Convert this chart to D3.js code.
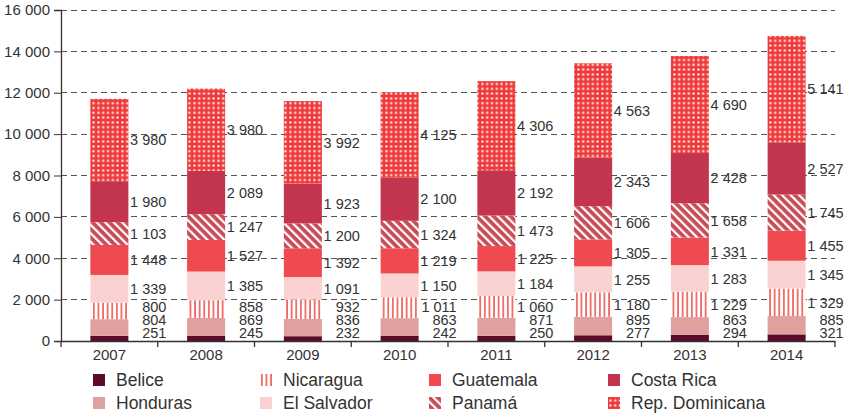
<!DOCTYPE html>
<html><head><meta charset="utf-8">
<script src="https://cdn.jsdelivr.net/npm/d3@7"></script>
<style>
body{margin:0;background:#fff;}
svg{display:block;font-family:"Liberation Sans",Arial,sans-serif;}
</style></head><body>
<svg id="chart" width="852" height="416"></svg>
<script>
const years = ["2007","2008","2009","2010","2011","2012","2013","2014"];
const countries = ["Belice","Honduras","Nicaragua","El Salvador","Guatemala","Panamá","Costa Rica","Rep. Dominicana"];
const belice      = [251, 245, 232, 242, 250, 277, 294, 321];
const honduras    = [804, 869, 836, 863, 871, 895, 863, 885];
const nicaragua   = [800, 858, 932, 1011, 1060, 1180, 1229, 1329];
const elSalvador  = [1339, 1385, 1091, 1150, 1184, 1255, 1283, 1345];
const guatemala   = [1448, 1527, 1392, 1219, 1225, 1305, 1331, 1455];
const panama      = [1103, 1247, 1200, 1324, 1473, 1606, 1658, 1745];
const costaRica   = [1980, 2089, 1923, 2100, 2192, 2343, 2428, 2527];
const repDom      = [3980, 3980, 3992, 4125, 4306, 4563, 4690, 5141];
const yTicks = [0, 2000, 4000, 6000, 8000, 10000, 12000, 14000, 16000];

const seriesValues = [belice, honduras, nicaragua, elSalvador, guatemala, panama, costaRica, repDom];
const fills = ["#5e0a2c","#e0a0a0","url(#pNic)","#fad2d2","#ef4a4f","url(#pPan)","#c3354f","url(#pRD)"];
const legendFills = ["#5e0a2c","#e0a0a0","url(#pNicL)","#fad2d2","#ef4a4f","url(#pPanL)","#c3354f","url(#pRDL)"];

const svg = d3.select("#chart");
const fmt = v => d3.format(",")(v).replace(/,/g, " ");

// patterns
const defs = svg.append("defs");
function nic(id){
  const p = defs.append("pattern").attr("id", id).attr("patternUnits","userSpaceOnUse")
    .attr("width", 4.6).attr("height", 10);
  p.append("rect").attr("width",4.6).attr("height",10).attr("fill","#fff");
  p.append("rect").attr("x",1).attr("width",1.7).attr("height",10).attr("fill","#f2625c");
}
nic("pNic"); nic("pNicL");
function pan(id){
  const p = defs.append("pattern").attr("id", id).attr("patternUnits","userSpaceOnUse")
    .attr("width", 6).attr("height", 6).attr("patternTransform","rotate(-45)");
  p.append("rect").attr("width",6).attr("height",6).attr("fill","#c84c58");
  p.append("rect").attr("x",0).attr("width",2.2).attr("height",6).attr("fill","#fff");
}
pan("pPan"); pan("pPanL");
function rd(id){
  const p = defs.append("pattern").attr("id", id).attr("patternUnits","userSpaceOnUse")
    .attr("width", 4.8).attr("height", 4.8);
  p.append("rect").attr("width",4.8).attr("height",4.8).attr("fill","#ee3a3a");
  p.append("rect").attr("x",1.4).attr("y",1.4).attr("width",2).attr("height",2).attr("fill","#fff");
}
rd("pRD"); rd("pRDL");

const mLeft = 61, mRight = 835, mTop = 10, mBottom = 341;
const x = d3.scaleBand().domain(years).range([mLeft, mRight]).paddingInner(0.607).paddingOuter(0.3035);
const y = d3.scaleLinear().domain([0, 16000]).range([mBottom, mTop]);

// grid
svg.append("g").selectAll("line").data(yTicks.filter(t => t > 0)).join("line")
  .attr("x1", mLeft).attr("x2", mRight).attr("y1", d => y(d)).attr("y2", d => y(d))
  .attr("stroke", "#555").attr("stroke-width", 1).attr("stroke-dasharray", "6,4")
  .attr("shape-rendering","crispEdges");

// stacked data
const table = years.map((yr, i) => {
  const o = {year: yr};
  countries.forEach((c, k) => o[c] = seriesValues[k][i]);
  return o;
});
const stack = d3.stack().keys(countries)(table);

svg.append("g").selectAll("g").data(stack).join("g")
  .attr("fill", (d, k) => fills[k])
  .selectAll("rect").data(d => d).join("rect")
  .attr("x", d => x(d.data.year)).attr("width", x.bandwidth())
  .attr("y", d => y(d[1])).attr("height", d => y(d[0]) - y(d[1]));

// labels
const labG = svg.append("g").attr("font-size", 14.5).attr("fill", "#333").attr("text-anchor", "end");
years.forEach((yr, i) => {
  let prev = null;
  stack.forEach((s, k) => {
    const seg = s[i];
    let cy = y((seg[0] + seg[1]) / 2);
    if (prev === null) cy = Math.min(cy, 333);
    else cy = Math.min(cy, prev - 13);
    prev = cy;
    labG.append("text").attr("x", x(yr) + x.bandwidth() + 38).attr("y", cy).attr("dy", "0.36em")
      .text(fmt(seriesValues[k][i]));
  });
});

// y axis
const yAxis = svg.append("g").attr("transform", `translate(${mLeft},0)`)
  .call(d3.axisLeft(y).tickValues(yTicks).tickFormat(fmt).tickSize(7).tickPadding(4));
yAxis.select(".domain").attr("stroke", "#333").attr("stroke-width", 1.3);
yAxis.selectAll(".tick line").attr("stroke", "#333");
yAxis.selectAll("text").attr("font-size", 15).attr("fill", "#333").attr("font-family", "Liberation Sans, Arial, sans-serif");

// x axis
const xAxis = svg.append("g").attr("transform", `translate(0,${mBottom})`)
  .call(d3.axisBottom(x).tickSize(0).tickPadding(8));
xAxis.select(".domain").attr("stroke", "#333").attr("stroke-width", 1.3);
xAxis.selectAll("text").attr("font-size", 15).attr("fill", "#333").attr("font-family", "Liberation Sans, Arial, sans-serif");
const bounds = d3.range(years.length + 1).map(i => mLeft + i * x.step());
xAxis.append("g").selectAll("line").data(bounds).join("line")
  .attr("x1", d => d).attr("x2", d => d).attr("y1", 0).attr("y2", 6)
  .attr("stroke", "#333").attr("stroke-width", 1.3);

// legend
const legOrder = [0, 2, 4, 6, 1, 3, 5, 7];
const colX = [93, 260, 429, 608];
const rowY = [380, 403];
const leg = svg.append("g");
legOrder.forEach((k, j) => {
  const col = j % 4, row = Math.floor(j / 4);
  const g = leg.append("g").attr("transform", `translate(${colX[col]},${rowY[row]})`);
  g.append("rect").attr("x", 0).attr("y", -6).attr("width", 12).attr("height", 12).attr("fill", legendFills[k]);
  g.append("text").attr("x", 23).attr("y", 0).attr("dy", "0.36em").attr("font-size", 17.5)
    .attr("fill", "#333").text(countries[k]);
});
</script>
</body></html>
